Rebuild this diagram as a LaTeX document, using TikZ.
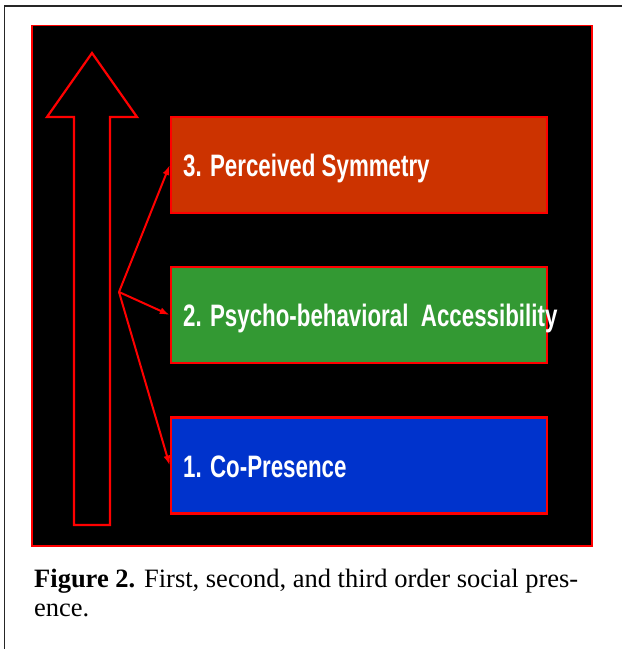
\documentclass[tikz,border=0pt]{standalone}
\usepackage{fontspec}
\setmainfont{Liberation Serif}
\newfontfamily\boxfont[FakeStretch=0.72]{Liberation Sans}
\usetikzlibrary{arrows.meta}
\definecolor{boxred}{HTML}{CC3300}
\definecolor{boxgreen}{HTML}{339933}
\definecolor{boxblue}{HTML}{0033CC}
\definecolor{linered}{HTML}{FF0000}
\tikzset{
  lvlbox/.style={draw=linered, line width=2.5pt, rectangle, minimum width=376pt, minimum height=96pt, inner sep=0pt},
  lvltext/.style={anchor=base west, text=white, inner sep=0pt, font=\boxfont\bfseries\fontsize{31}{36}\selectfont},
  conn/.style={draw=linered, line width=2pt, -{Latex[length=10pt,width=7pt]}},
  captext/.style={anchor=base west, inner sep=0pt, font=\fontsize{26.5}{29}\selectfont}
}
\begin{document}
\begin{tikzpicture}[x=1pt,y=-1pt]
\useasboundingbox (0,0) rectangle (622,649);
% outer frame (partial)
\draw[line width=1.8pt, black!85] (4.5,649) -- (4.5,6) -- (622,6);
% black panel
\draw[draw=linered, line width=1.5pt, fill=black] (32,25.5) rectangle (592,546);
% big upward arrow
\draw[draw=linered, line width=2.2pt, line join=miter]
  (92,53) -- (137,117) -- (110,117) -- (110,525) -- (74,525) -- (74,117) -- (47,117) -- cycle;
% level boxes
\node[lvlbox, fill=boxred]   (b3) at (359,165) {};
\node[lvlbox, fill=boxgreen] (b2) at (359,315) {};
\node[lvlbox, fill=boxblue]  (b1) at (359,465.5) {};
\node[lvltext] (t3) at (183,176.5) {3. Perceived Symmetry};
\node[lvltext] (t2) at (183,326) {2. Psycho-behavioral\ \ Accessibility};
\node[lvltext] (t1) at (183,477.5) {1. Co-Presence};
% connectors
\coordinate (fork) at (119,292);
\draw[conn] (fork) -- (b3.west);
\draw[conn] (fork) -- (b2.west);
\draw[conn] (fork) -- (b1.west);
% caption
\node[captext] (cap1) at (34,587) {\textbf{Figure 2.} First, second, and third order social pres-};
\node[captext] (cap2) at (34,616) {ence.};
\end{tikzpicture}
\end{document}
